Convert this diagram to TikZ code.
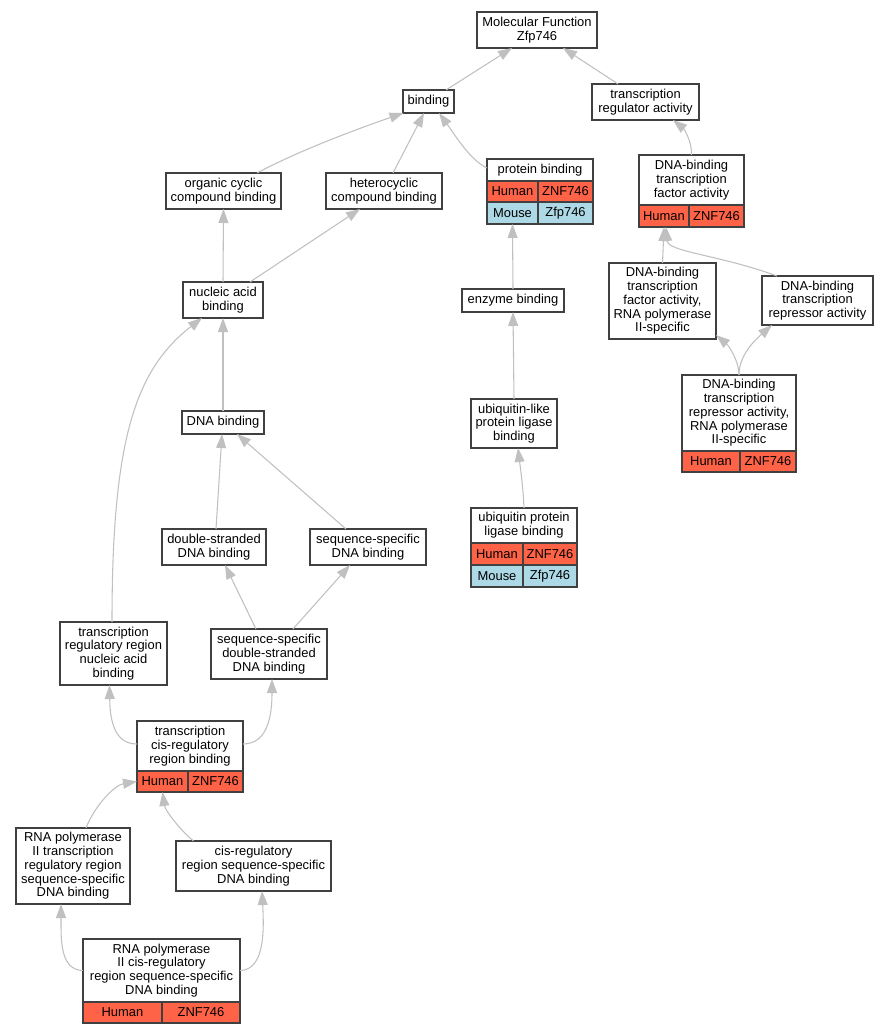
\documentclass[tikz,border=0pt]{standalone}
\usepackage{fontspec}
\setmainfont{Liberation Sans}
\usetikzlibrary{arrows.meta}
\usetikzlibrary{positioning}
\definecolor{tomato}{HTML}{FF6347}
\definecolor{lightblue}{HTML}{ADD8E6}
\definecolor{silver}{HTML}{C0C0C0}
\definecolor{border}{HTML}{404040}

\begin{document}
\begin{tikzpicture}[x=0.75pt, y=-0.75pt,
        term/.style={draw=border, line width=0.9pt, fill=white, align=center, inner sep=0pt, outer sep=0pt, font=\fontsize{9.7}{10.3}\selectfont},
        sz/.style 2 args={minimum width=#1*0.75pt, minimum height=#2*0.75pt},
        human/.style={term, fill=tomato},
        mouse/.style={term, fill=lightblue},
        isa/.style={draw=silver, line width=0.8pt, -{Triangle[length=10.5pt, width=7.5pt]}}]
        \useasboundingbox (0,0) rectangle (888,1035);

        % Top of the tree
        \node[term, sz={120}{36}] (mf) at (537,30) {Molecular Function\\Zfp746};
        \node[term, sz={51}{23}] (bind) at (428.5,101.5) {binding};
        \node[term, sz={107}{36}] (treg) at (645.5,102) {transcription\\regulator activity};

        % protein binding with its table
        \node[term, sz={106}{22}] (prot) at (540,170) {protein binding};
        \node[human, sz={51}{21}, anchor=north west] (protH) at (prot.south west) {Human};
        \node[human, sz={55}{21}, anchor=north west] (protZ) at (protH.north east) {ZNF746};
        \node[mouse, sz={51}{22}, anchor=north west] (protM) at (protH.south west) {Mouse};
        \node[mouse, sz={55}{22}, anchor=north west] (protF) at (protM.north east) {Zfp746};

        % DNA-binding transcription factor activity with its table
        \node[term, sz={105}{50}] (dbtf) at (691.5,180) {DNA-binding\\transcription\\factor activity};
        \node[human, sz={50}{22}, anchor=north west] (dbtfH) at (dbtf.south west) {Human};
        \node[human, sz={55}{22}, anchor=north west] (dbtfZ) at (dbtfH.north east) {ZNF746};

        % Second and third rows
        \node[term, sz={115}{36}] (occ) at (223.5,191) {organic cyclic\\compound binding};
        \node[term, sz={116}{36}] (het) at (384,191) {heterocyclic\\compound binding};
        \node[term, sz={80}{36}] (nab) at (223,300) {nucleic acid\\binding};
        \node[term, sz={102}{23}] (enz) at (513,300.5) {enzyme binding};
        \node[term, sz={107}{76}] (dbtf2) at (662.5,301) {DNA-binding\\transcription\\factor activity,\\RNA polymerase\\II-specific};
        \node[term, sz={111}{49}] (rep) at (817.5,300.5) {DNA-binding\\transcription\\repressor activity};

        \node[term, sz={114}{76}] (rep2) at (739,413) {DNA-binding\\transcription\\repressor activity,\\RNA polymerase\\II-specific};
        \node[human, sz={58}{21}, anchor=north west] (rep2H) at (rep2.south west) {Human};
        \node[human, sz={56}{21}, anchor=north west] (rep2Z) at (rep2H.north east) {ZNF746};

        \node[term, sz={82}{23}] (dnab) at (223,422.5) {DNA binding};
        \node[term, sz={86}{49}] (ubl) at (514,423.5) {ubiquitin-like\\protein ligase\\binding};

        % ubiquitin protein ligase binding with its table
        \node[term, sz={106}{35}] (ubp) at (524,525.5) {ubiquitin protein\\ligase binding};
        \node[human, sz={52}{22}, anchor=north west] (ubpH) at (ubp.south west) {Human};
        \node[human, sz={54}{22}, anchor=north west] (ubpZ) at (ubpH.north east) {ZNF746};
        \node[mouse, sz={52}{22}, anchor=north west] (ubpM) at (ubpH.south west) {Mouse};
        \node[mouse, sz={54}{22}, anchor=north west] (ubpF) at (ubpM.north east) {Zfp746};

        % Lower left part
        \node[term, sz={104}{36}] (dsb) at (214,547) {double-stranded\\DNA binding};
        \node[term, sz={116}{36}] (ssb) at (368,547) {sequence-specific\\DNA binding};
        \node[term, sz={107}{63}] (trr) at (113.5,653.5) {transcription\\regulatory region\\nucleic acid\\binding};
        \node[term, sz={116}{50}] (ssds) at (269,654) {sequence-specific\\double-stranded\\DNA binding};

        \node[term, sz={106}{50}] (tcis) at (190,746) {transcription\\cis-regulatory\\region binding};
        \node[human, sz={51}{21}, anchor=north west] (tcisH) at (tcis.south west) {Human};
        \node[human, sz={55}{21}, anchor=north west] (tcisZ) at (tcisH.north east) {ZNF746};

        \node[term, sz={114}{76}] (rtr) at (73,866) {RNA polymerase\\II transcription\\regulatory region\\sequence-specific\\DNA binding};
        \node[term, sz={155}{50}] (crs) at (253.5,866) {cis-regulatory\\region sequence-specific\\DNA binding};

        \node[term, sz={157}{63}] (rcis) at (161.5,970.5) {RNA polymerase\\II cis-regulatory\\region sequence-specific\\DNA binding};
        \node[human, sz={79}{21}, anchor=north west] (rcisH) at (rcis.south west) {Human};
        \node[human, sz={78}{21}, anchor=north west] (rcisZ) at (rcisH.north east) {ZNF746};

        % Straight vertical edges
        \foreach \a/\b in {nab.north/occ.south, dnab.north/nab.south, enz.north/protM.south,
                ubl.north/enz.south, dbtf2.north/dbtfH.south} {
            \draw[isa] (\a) -- (\b);
        }

        % Other edges
        \draw[isa] ([shift={(17.5,0)}]bind.north) -- ([shift={(-25,0)}]mf.south);
        \draw[isa] ([shift={(-27.5,0)}]treg.north) -- ([shift={(26,0)}]mf.south);
        \draw[isa] ([shift={(33.5,0)}]occ.north) .. controls (300,150) and (360,128) .. ([shift={(-25,0)}]bind.south);
        \draw[isa] ([shift={(9,0)}]het.north) -- ([shift={(-4.5,0)}]bind.south);
        \draw[isa] ([shift={(0,-2)}]prot.west) .. controls (470,160) and (455,135) .. ([shift={(10.5,0)}]bind.south);
        \draw[isa] (dbtf.north) .. controls (692,140) and (683,128) .. ([shift={(27.5,0)}]treg.south);
        \draw[isa] ([shift={(-40.5,0)}]rep.north) .. controls (720,255) and (668,252) .. ([shift={(2,0)}]dbtfH.south);
        \draw[isa] (rep2.north) .. controls (739,360) and (728,345) .. ([shift={(0,-4)}]dbtf2.south east);
        \draw[isa] (rep2.north) .. controls (739,355) and (755,340) .. ([shift={(-45.5,0)}]rep.south);
        \draw[isa] ([shift={(27,0)}]nab.north) -- ([shift={(-24,0)}]het.south);
        \draw[isa] (ubp.north) .. controls (523,485) and (520,465) .. ([shift={(4,0)}]ubl.south);
        \draw[isa] ([shift={(2,0)}]dsb.north) -- ([shift={(-1,0)}]dnab.south);
        \draw[isa] ([shift={(-22,0)}]ssb.north) -- ([shift={(14,0)}]dnab.south);
        \draw[isa] ([shift={(-1.5,0)}]trr.north) .. controls (112,440) and (135,370) .. ([shift={(-21,0)}]nab.south);
        \draw[isa] ([shift={(-13,0)}]ssds.north) -- ([shift={(11,0)}]dsb.south);
        \draw[isa] ([shift={(24,0)}]ssds.north) -- ([shift={(-18,0)}]ssb.south);
        \draw[isa] ([shift={(0,-2)}]tcis.west) .. controls (112,744) and (110,715) .. ([shift={(-4,0)}]trr.south);
        \draw[isa] ([shift={(0,-2)}]tcis.east) .. controls (268,744) and (272,715) .. ([shift={(3,0)}]ssds.south);
        \draw[isa] ([shift={(13,0)}]rtr.north) .. controls (95,805) and (115,785) .. (tcisH.west);
        \draw[isa] ([shift={(-60,0)}]crs.north) .. controls (180,830) and (165,810) .. (tcisH.south);
        \draw[isa] (rcis.west) .. controls (60,970) and (61,940) .. ([shift={(-12,0)}]rtr.south);
        \draw[isa] (rcis.east) .. controls (265,970) and (264,930) .. ([shift={(8.5,0)}]crs.south);
    \end{tikzpicture}
\end{document}
